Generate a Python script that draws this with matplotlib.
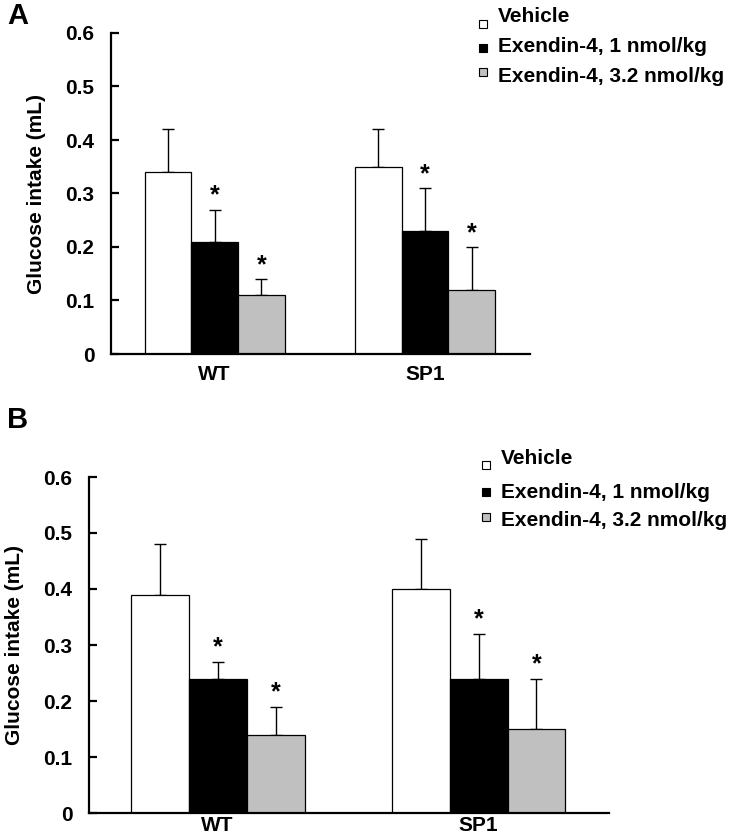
import matplotlib
matplotlib.use("Agg")
import matplotlib.pyplot as plt
from matplotlib.lines import Line2D
import numpy as np

plt.rcParams['font.family'] = ['Liberation Sans', 'DejaVu Sans']
plt.rcParams['font.weight'] = 'bold'

groups = ["WT", "SP1"]
labels = ["Vehicle", "Exendin-4, 1 nmol/kg", "Exendin-4, 3.2 nmol/kg"]
colors = ["white", "black", "#c0c0c0"]

# panel A: mean and SEM per treatment, [WT, SP1]
a_means = [[0.34, 0.35], [0.21, 0.23], [0.11, 0.12]]
a_errs = [[0.08, 0.07], [0.06, 0.08], [0.03, 0.08]]
a_sig = [[False, False], [True, True], [True, True]]

# panel B
b_means = [[0.39, 0.40], [0.24, 0.24], [0.14, 0.15]]
b_errs = [[0.09, 0.09], [0.03, 0.08], [0.05, 0.09]]
b_sig = [[False, False], [True, True], [True, True]]

W, H = 731, 838
fig = plt.figure(figsize=(W / 100, H / 100), dpi=100)


def px(x, y):
    return x / W, 1 - y / H


def panel(rect, means, errs, sig, xpad, letter, letter_xy, leg_x, leg_text_y, leg_mark_y):
    ax = fig.add_axes(rect)
    x = np.arange(len(groups))
    w = 0.222
    for i in range(len(labels)):
        pos = x + (i - 1) * w
        ax.bar(pos, means[i], w, color=colors[i], edgecolor='black', linewidth=0.9, zorder=2)
        ax.errorbar(pos, means[i], yerr=[np.zeros(len(groups)), errs[i]], fmt='none',
                    ecolor='black', elinewidth=1.0, capsize=4, capthick=1.0, zorder=1)
        for j in range(len(groups)):
            if sig[i][j]:
                ax.text(pos[j], means[i][j] + errs[i][j] + 0.013, "*", ha='center', va='baseline',
                        fontsize=18, fontweight='bold')
    ax.set_xlim(-0.493, 1.5)
    ax.set_ylim(0, 0.6)
    ax.set_yticks([0, 0.1, 0.2, 0.3, 0.4, 0.5, 0.6])
    ax.set_yticklabels(["0", "0.1", "0.2", "0.3", "0.4", "0.5", "0.6"])
    ax.set_xticks(x)
    ax.set_xticklabels(groups)
    for s in ['top', 'right']:
        ax.spines[s].set_visible(False)
    for s in ['left', 'bottom']:
        ax.spines[s].set_linewidth(1.6)
    ax.tick_params(axis='y', direction='in', length=6, width=1.6, pad=12, labelsize=15)
    ax.tick_params(axis='x', length=0, pad=xpad, labelsize=15)
    ax.set_ylabel("Glucose intake (mL)", fontsize=15, fontweight='bold', labelpad=14)
    fig.text(*px(*letter_xy), letter, fontsize=21, fontweight='bold', ha='left', va='center')
    for i in range(len(labels)):
        mx, my = px(leg_x, leg_mark_y[i])
        fig.add_artist(Line2D([mx], [my], marker='s', markersize=6, markerfacecolor=colors[i],
                              markeredgecolor='black', markeredgewidth=0.8, linestyle='none',
                              transform=fig.transFigure))
        tx, ty = px(leg_x + 15, leg_text_y[i])
        fig.text(tx, ty, labels[i], fontsize=15, fontweight='bold', ha='left', va='center')
    return ax


panel([111 / W, 1 - 354 / H, (530 - 111) / W, (354 - 33) / H],
      a_means, a_errs, a_sig, 8, "A", (7, 16), 483, [17, 46, 77], [24, 48, 72])
panel([89 / W, 1 - 813 / H, (609 - 89) / W, (813 - 477) / H],
      b_means, b_errs, b_sig, 2.5, "B", (7, 420), 486, [458, 492, 520], [465, 492, 517])

fig.savefig("out.png", dpi=100)
